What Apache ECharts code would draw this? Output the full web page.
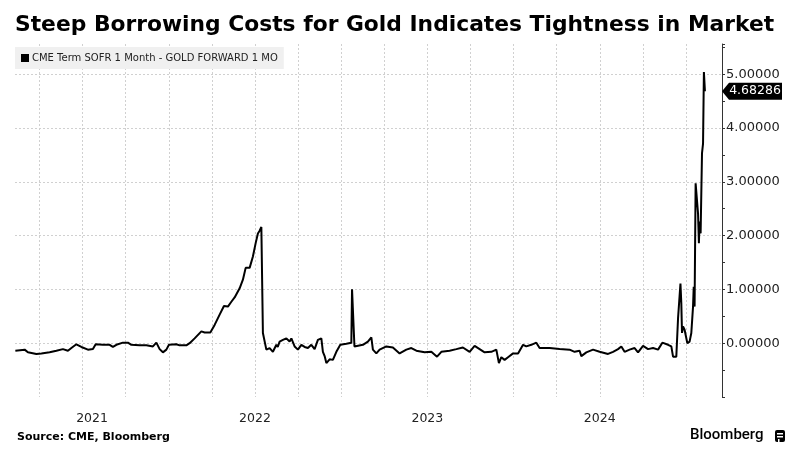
<!DOCTYPE html>
<html><head><meta charset="utf-8">
<script src="https://cdn.jsdelivr.net/npm/echarts@6/dist/echarts.min.js"></script>
<style>html,body{margin:0;padding:0;background:#fff}#c{width:798px;height:460px}</style>
</head><body><div id="c"></div>
<script>
const titleText = 'Steep Borrowing Costs for Gold Indicates Tightness in Market';
const seriesName = 'CME Term SOFR 1 Month - GOLD FORWARD 1 MO';
const sourceText = 'Source: CME, Bloomberg';
const yearLabels = ['2021', '2022', '2023', '2024'];
const yearLabelPos = [2021.555, 2022.5, 2023.5, 2024.5];
const quarterLines = [2021.25, 2021.5, 2021.75, 2022, 2022.25, 2022.5, 2022.75, 2023, 2023.25, 2023.5, 2023.75, 2024, 2024.25, 2024.5, 2024.75, 2025];
const yTickValues = [0, 1, 2, 3, 4, 5];

// decimal year of each observation
const time = [
2021.110,2021.164,2021.183,2021.232,2021.261,2021.270,2021.309,2021.348,2021.386,2021.415,
2021.435,2021.464,2021.493,2021.531,2021.560,2021.576,2021.618,2021.657,2021.676,2021.696,
2021.734,2021.763,2021.783,2021.831,2021.870,2021.908,2021.928,2021.939,2021.947,2021.966,
2021.986,2022.001,2022.044,2022.063,2022.102,2022.121,2022.150,2022.189,2022.208,2022.241,
2022.266,2022.295,2022.320,2022.343,2022.363,2022.382,2022.411,2022.430,2022.446,2022.469,
2022.488,2022.504,2022.517,2022.527,2022.537,2022.543,2022.546,2022.552,2022.566,2022.585,
2022.604,2022.624,2022.632,2022.643,2022.662,2022.682,2022.701,2022.711,2022.730,2022.749,
2022.769,2022.788,2022.807,2022.827,2022.846,2022.865,2022.885,2022.894,2022.904,2022.914,
2022.933,2022.952,2022.972,2022.995,2023.030,2023.059,2023.063,2023.072,2023.077,2023.126,
2023.155,2023.175,2023.184,2023.204,2023.223,2023.262,2023.300,2023.339,2023.378,2023.407,
2023.436,2023.484,2023.523,2023.556,2023.581,2023.629,2023.668,2023.706,2023.745,2023.774,
2023.803,2023.832,2023.871,2023.900,2023.915,2023.929,2023.948,2023.968,2023.997,2024.026,
2024.055,2024.074,2024.103,2024.132,2024.151,2024.209,2024.267,2024.325,2024.354,2024.383,
2024.393,2024.422,2024.461,2024.499,2024.548,2024.577,2024.606,2024.625,2024.644,2024.673,
2024.702,2024.722,2024.751,2024.780,2024.809,2024.838,2024.863,2024.896,2024.915,2024.925,
2024.944,2024.954,2024.963,2024.968,2024.973,2024.977,2024.983,2024.992,2025.002,2025.008,
2025.021,2025.031,2025.041,2025.045,2025.050,2025.056,2025.064,2025.070,2025.075,2025.079,
2025.085,2025.093,2025.099,2025.104,2025.110
];
// spread value (%)
const spread = [
-0.14,-0.12,-0.17,-0.20,-0.19,-0.20,-0.17,-0.14,-0.11,-0.14,
-0.09,-0.02,-0.07,-0.12,-0.11,-0.02,-0.03,-0.03,-0.07,-0.03,
0.01,0.01,-0.03,-0.04,-0.04,-0.06,0.01,0.01,-0.11,-0.17,
-0.12,-0.03,-0.02,-0.04,-0.04,0.00,0.09,0.22,0.20,0.20,
0.34,0.53,0.69,0.68,0.77,0.85,1.02,1.18,1.40,1.40,
1.61,1.86,2.04,2.09,2.16,2.18,0.19,0.19,-0.12,-0.09,
-0.16,-0.03,-0.07,0.03,0.06,0.09,0.03,0.09,-0.06,-0.12,
-0.03,-0.07,-0.09,-0.03,-0.11,0.06,0.09,-0.16,-0.24,-0.37,
-0.30,-0.31,-0.16,-0.03,-0.01,0.01,1.00,1.00,-0.06,-0.03,
0.03,0.11,-0.12,-0.19,-0.12,-0.06,-0.08,-0.19,-0.12,-0.09,
-0.14,-0.17,-0.16,-0.25,-0.16,-0.14,-0.11,-0.08,-0.16,-0.05,
-0.11,-0.17,-0.16,-0.12,-0.37,-0.26,-0.31,-0.26,-0.19,-0.19,
-0.03,-0.06,-0.03,0.01,-0.09,-0.09,-0.11,-0.12,-0.16,-0.14,
-0.24,-0.17,-0.12,-0.16,-0.20,-0.16,-0.11,-0.06,-0.16,-0.12,
-0.09,-0.17,-0.05,-0.11,-0.09,-0.12,0.01,-0.03,-0.06,-0.25,
-0.25,0.46,0.43,1.11,0.74,0.19,0.31,0.25,0.28,0.00,
0.03,0.19,0.68,1.05,0.68,2.97,2.97,2.41,1.86,2.26,
2.04,3.53,3.71,5.04,4.68286
];

const xMin = 2021.108, xMax = 2025.209;
const lastValue = spread[spread.length - 1];
const data = time.map((t, i) => [t, spread[i]]);

const chart = echarts.init(document.getElementById('c'), null, {renderer: 'canvas'});
const gridColor = '#d0d0d0';
chart.setOption({
  animation: false,
  backgroundColor: '#fff',
  title: {
    text: titleText, left: 10, top: 9,
    textStyle: {fontFamily: 'DejaVu Sans', fontWeight: 'bold', fontSize: 21.8, color: '#000'}
  },
  legend: {
    left: 15, top: 47, icon: 'rect', itemWidth: 8, itemHeight: 8, itemGap: 4,
    backgroundColor: '#f0f0f0', padding: [6, 6, 6, 6],
    textStyle: {fontFamily: 'DejaVu Sans', fontSize: 10, color: '#222', padding: [0, 0, 0, -2]},
    data: [{name: seriesName, itemStyle: {color: '#000'}}]
  },
  grid: {left: 15, right: 76, top: 44, bottom: 63, containLabel: false},
  xAxis: {
    type: 'value', min: xMin, max: xMax,
    axisLine: {show: false},
    axisTick: {show: false, customValues: quarterLines},
    axisLabel: {
      customValues: yearLabelPos, margin: 15, color: '#222',
      fontFamily: 'DejaVu Sans', fontSize: 12.5,
      formatter: v => {
        let best = 0;
        yearLabelPos.forEach((p, i) => { if (Math.abs(p - v) < Math.abs(yearLabelPos[best] - v)) best = i; });
        return yearLabels[best];
      }
    },
    splitLine: {show: true, lineStyle: {type: [2, 2], color: gridColor, width: 1}}
  },
  yAxis: {
    type: 'value', position: 'right', min: -1, max: 5.56, interval: 1,
    axisLine: {show: true, onZero: false, lineStyle: {color: '#333', width: 1}},
    axisTick: {show: true, length: 3, lineStyle: {color: '#333'}},
    minorTick: {show: true, splitNumber: 2, length: 3, lineStyle: {color: '#333'}},
    axisLabel: {
      margin: 4, color: '#222', fontFamily: 'DejaVu Sans', fontSize: 13,
      formatter: v => {
        const r = Math.round(v * 1000) / 1000;
        return yTickValues.indexOf(r) >= 0 ? r.toFixed(5) : '';
      }
    },
    splitLine: {show: true, showMinLine: false, showMaxLine: false, lineStyle: {type: [2, 2], color: gridColor, width: 1}}
  },
  series: [{
    name: seriesName, type: 'line', data: data, showSymbol: false, symbol: 'none',
    clip: false,
    lineStyle: {color: '#000', width: 2},
    itemStyle: {color: '#000'},
    markPoint: {
      silent: true,
      symbol: 'path://M0,8 L7,0 L60,0 L60,16 L7,16 Z',
      symbolSize: [60, 17], symbolKeepAspect: false, symbolOffset: [30, 0],
      itemStyle: {color: '#000'},
      label: {show: true, position: 'inside', offset: [3, 0], color: '#fff', fontFamily: 'DejaVu Sans', fontSize: 12.5,
        formatter: () => lastValue.toFixed(5)},
      data: [{coord: [xMax, lastValue], value: lastValue}]
    }
  }],
  graphic: [
    {type: 'text', left: 17, top: 432, style: {text: sourceText, fontFamily: 'DejaVu Sans', fontWeight: 'bold', fontSize: 11, fill: '#000'}},
    {type: 'text', left: 690, top: 428, style: {text: 'Bloomberg', fontFamily: 'Roboto', fontWeight: 500, fontSize: 15, fill: '#000'}},
    {type: 'group', left: 775, top: 430, children: [
      {type: 'rect', shape: {x: 0, y: 0, width: 10, height: 12, r: 2}, style: {fill: '#000'}},
      {type: 'rect', shape: {x: 2, y: 3, width: 6, height: 1.5}, style: {fill: '#fff'}},
      {type: 'rect', shape: {x: 2, y: 6, width: 6, height: 1.5}, style: {fill: '#fff'}},
      {type: 'rect', shape: {x: 3, y: 9, width: 1.5, height: 3}, style: {fill: '#fff'}}
    ]}
  ]
});
</script></body></html>
